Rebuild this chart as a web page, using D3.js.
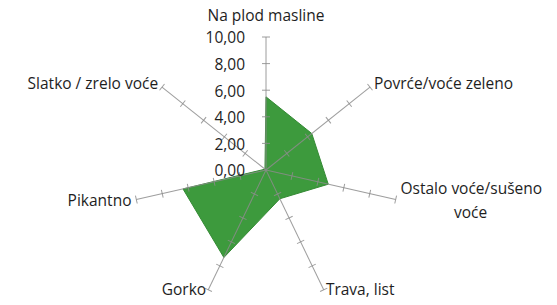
<!DOCTYPE html>
<html>
<head>
<meta charset="utf-8">
<script src="https://cdn.jsdelivr.net/npm/d3@7"></script>
<style>
body{margin:0;background:#fff;}
text{font-family:"Open Sans",sans-serif;fill:#1e1e1e;}
</style>
</head>
<body>
<script>
// radar chart data
var categories = ["Na plod masline","Povrće/voće zeleno","Ostalo voće/sušeno voće","Trava, list","Gorko","Pikantno","Slatko / zrelo voće"];
var values = [5.5, 4.4, 4.8, 2.4, 7.3, 6.4, 0.1];
var tickValues = [0, 2, 4, 6, 8, 10];

var width = 557, height = 305;
var cx = 266, cy = 170, R = 133;
var n = categories.length;

var svg = d3.select("body").append("svg").attr("width",width).attr("height",height);
var g = svg.append("g").attr("transform","translate("+cx+","+cy+")");

var r = d3.scaleLinear().domain([0,10]).range([0,R]);
var angle = d3.scaleLinear().domain([0,n]).range([0,2*Math.PI]);

// filled series
var radial = d3.lineRadial()
	.angle(function(d,i){return angle(i);})
	.radius(function(d){return r(d);})
	.curve(d3.curveLinearClosed);
g.append("path").datum(values).attr("d",radial)
	.attr("fill","#3d9a3d").attr("stroke","#358a35").attr("stroke-width",1);

// axes with ticks
var axes = g.selectAll(".axis").data(categories).enter().append("g").attr("class","axis")
	.attr("transform",function(d,i){return "rotate("+(angle(i)*180/Math.PI)+")";});
axes.append("line").attr("x1",0).attr("y1",0).attr("x2",0).attr("y2",-r(10))
	.attr("stroke","#8c8c8c").attr("stroke-opacity",0.85).attr("stroke-width",1);
axes.selectAll(".tick").data(tickValues.slice(1)).enter().append("line").attr("class","tick")
	.attr("x1",-4).attr("x2",4)
	.attr("y1",function(d){return -r(d);}).attr("y2",function(d){return -r(d);})
	.attr("stroke","#8c8c8c").attr("stroke-opacity",0.85);

// tick labels along top axis
g.selectAll(".tlabel").data(tickValues).enter().append("text").attr("class","tlabel")
	.attr("x",-21).attr("y",function(d){return -r(d)+1;}).attr("dy","0.35em")
	.attr("text-anchor","end").style("font-size","15.5px")
	.text(function(d){return d3.format(".2f")(d).replace(".",",");});

// category labels
function pos(i, extra){
	var a = angle(i);
	return [Math.sin(a)*(R+extra), -Math.cos(a)*(R+extra)];
}
var lab = g.selectAll(".clabel").data(categories).enter().append("text").attr("class","clabel")
	.style("font-size","15.5px")
	.attr("text-anchor",function(d,i){
		var s = Math.sin(angle(i));
		return Math.abs(s)<0.01 ? "middle" : (s>0 ? "start" : "end");
	})
	.attr("x",function(d,i){return pos(i,5)[0];})
	.attr("y",function(d,i){
		var p = pos(i,5);
		if(i===0) return p[1]-16;
		if(i===3 || i===4) return p[1]-5;
		return p[1];
	})
	.attr("dy","0.35em");
lab.each(function(d,i){
	var t = d3.select(this);
	if(d==="Ostalo voće/sušeno voće"){
		var p = pos(i,5);
		t.attr("x",p[0]).attr("y",p[1]-12);
		t.append("tspan").attr("x",p[0]).attr("dy","0.35em").text("Ostalo voće/sušeno");
		t.append("tspan").attr("x",p[0]+70).attr("dy","1.55em").attr("text-anchor","middle").text("voće");
	} else {
		t.text(d);
	}
});
</script>
</body>
</html>
